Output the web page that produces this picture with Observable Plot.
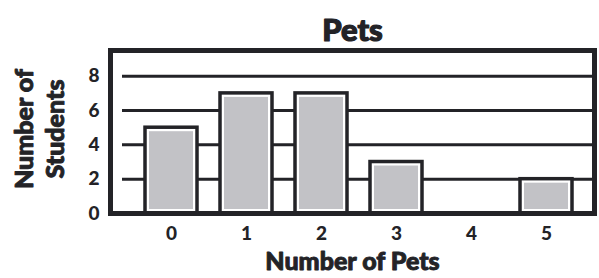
<!DOCTYPE html>
<html>
<head>
<meta charset="utf-8">
<script src="https://cdn.jsdelivr.net/npm/d3@7"></script>
<script src="https://cdn.jsdelivr.net/npm/@observablehq/plot@0.6"></script>
<style>
  html, body { margin: 0; padding: 0; background: #fff; }
  svg { font-family: Lato, "Open Sans", sans-serif; }
</style>
</head>
<body>
<div id="chart"></div>
<script>
const pets = ["0", "1", "2", "3", "4", "5"];
const students = [5, 7, 7, 3, 0, 2];
const yTicks = [0, 2, 4, 6, 8];
const gridTicks = [2, 4, 6, 8];
const title = "Pets";
const xTitle = "Number of Pets";
const yTitle = "Number of\nStudents";

const data = pets.map((p, i) => ({pets: p, students: students[i]}));
const ink = "#232327";
const heavy = {fontWeight: 900, fill: ink, stroke: ink, strokeWidth: 0.9};

const chart = Plot.plot({
  width: 599,
  height: 278,
  marginLeft: 110,
  marginRight: 5,
  marginTop: 50,
  marginBottom: 65,
  style: {fontFamily: "Lato, 'Open Sans', sans-serif", fontWeight: 900, color: ink, background: "#fff"},
  x: {domain: pets, range: [120.7, 595.2], padding: 0.31, label: null},
  y: {domain: [0, 9.5], label: null},
  marks: [
    Plot.ruleY(gridTicks, {stroke: ink, strokeWidth: 3, insetLeft: 12, insetRight: 2}),
    Plot.barY(data, {x: "pets", y: "students", fill: "#fff", stroke: ink, strokeWidth: 3.5, filter: d => d.students > 0}),
    Plot.barY(data, {x: "pets", y: "students", fill: "#c2c2c6", inset: 4, filter: d => d.students > 0}),
    Plot.frame({stroke: ink, strokeWidth: 5}),
    Plot.axisY(yTicks, {tickSize: 0, tickPadding: 11, fontSize: 19, ...heavy}),
    Plot.axisX({tickSize: 0, tickPadding: 13, fontSize: 19, ...heavy, label: null}),
    Plot.text([title], {frameAnchor: "top", dy: -32, fontSize: 31, ...heavy, strokeWidth: 1.2}),
    Plot.text([xTitle], {frameAnchor: "bottom", dy: 56, fontSize: 25, ...heavy}),
    Plot.text([yTitle], {frameAnchor: "left", textAnchor: "middle", dx: -72, dy: -3, rotate: -90, fontSize: 25, ...heavy, lineHeight: 1.25})
  ]
});
document.getElementById("chart").appendChild(chart);
</script>
</body>
</html>
